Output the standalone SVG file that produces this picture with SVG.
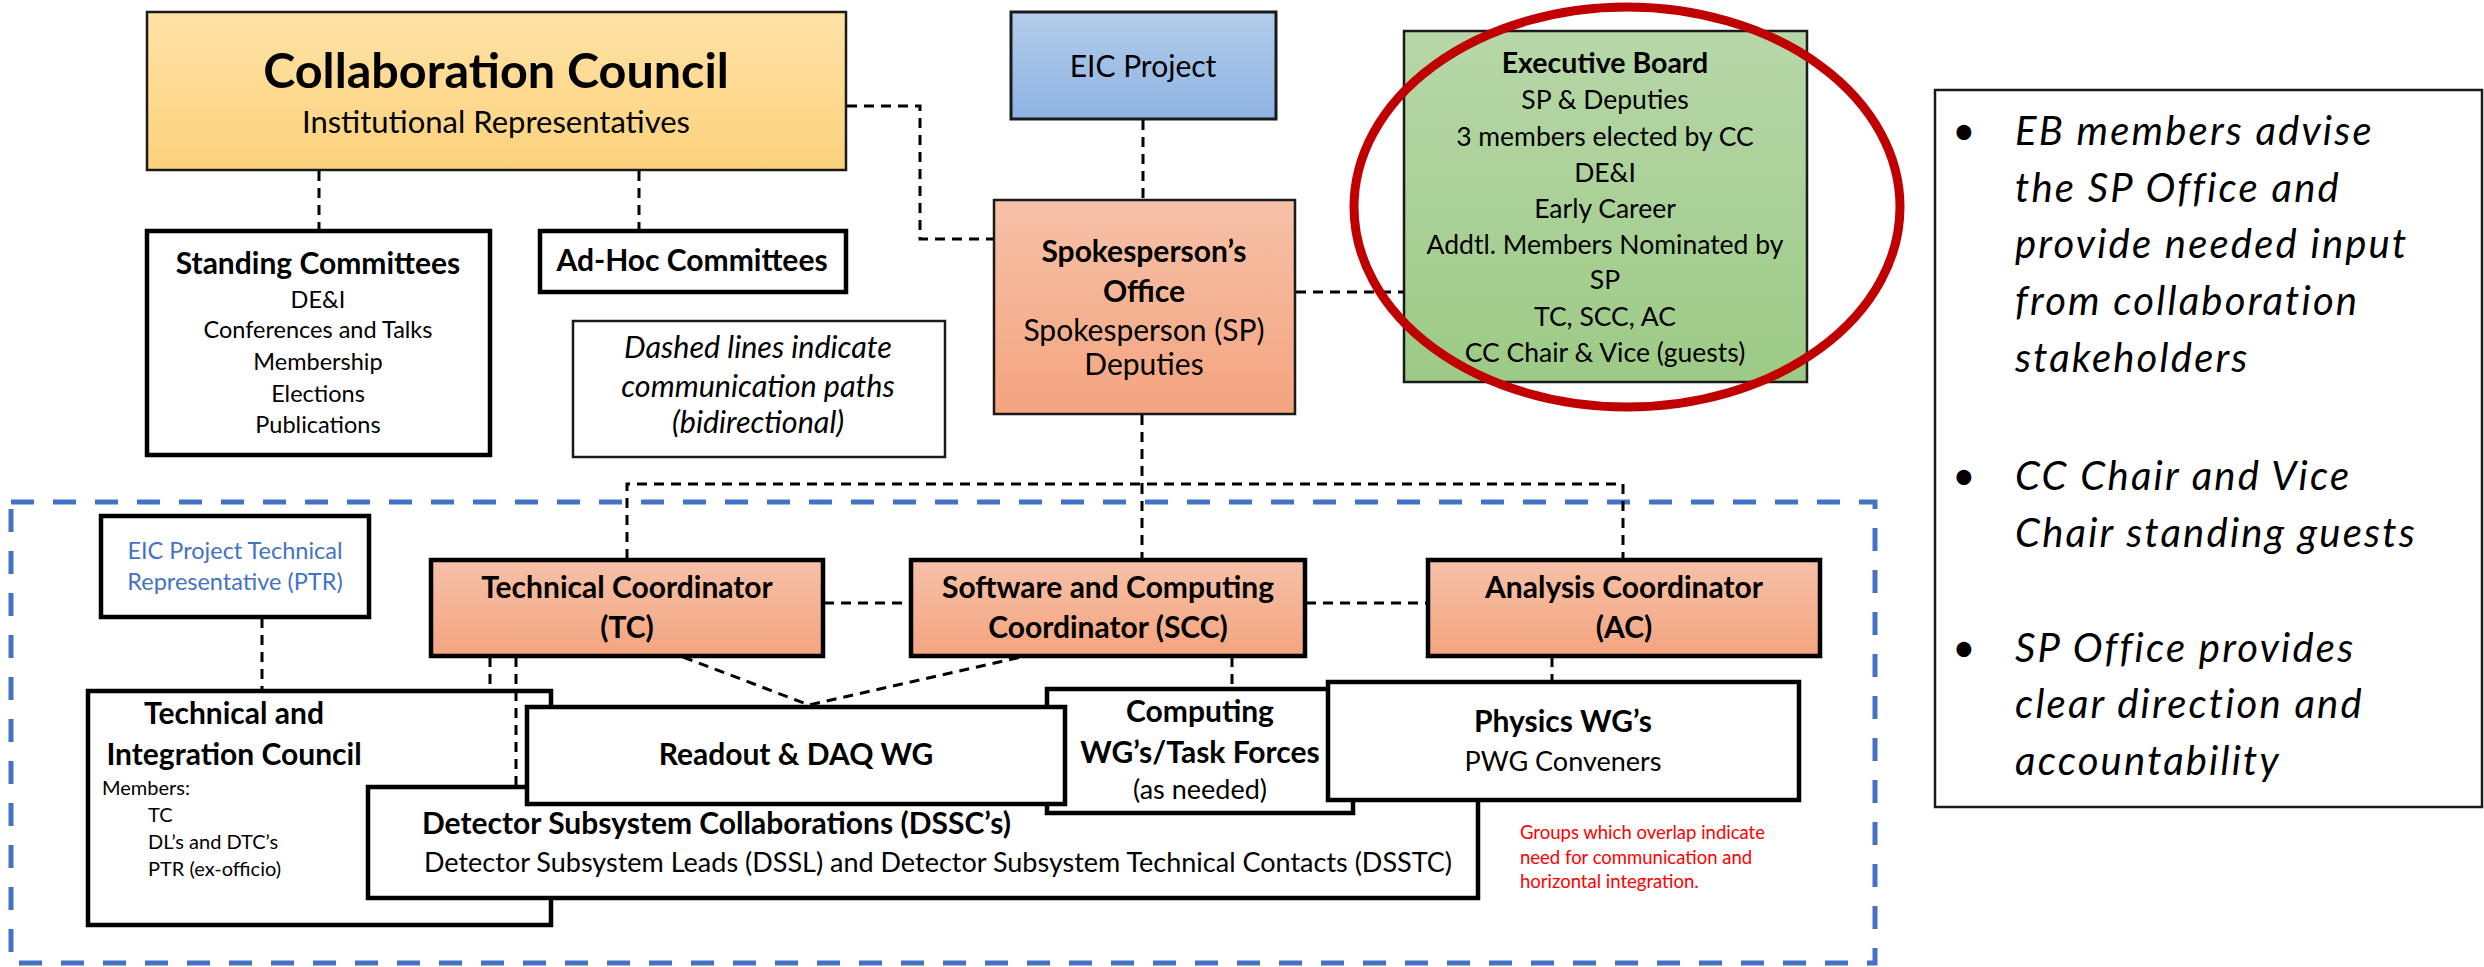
<svg xmlns="http://www.w3.org/2000/svg" width="2484" height="967" viewBox="0 0 2484 967">
<defs>
<linearGradient id="gYel" x1="0" y1="0" x2="0" y2="1"><stop offset="0" stop-color="#FFE2A6"/><stop offset="1" stop-color="#FCD27C"/></linearGradient>
<linearGradient id="gBlue" x1="0" y1="0" x2="0" y2="1"><stop offset="0" stop-color="#B3CDEB"/><stop offset="1" stop-color="#8EB3E2"/></linearGradient>
<linearGradient id="gSal" x1="0" y1="0" x2="0" y2="1"><stop offset="0" stop-color="#F6C1A8"/><stop offset="1" stop-color="#F4A47F"/></linearGradient>
<linearGradient id="gGreen" x1="0" y1="0" x2="0" y2="1"><stop offset="0" stop-color="#B7D7A8"/><stop offset="1" stop-color="#9DCA86"/></linearGradient>
<style>
text{font-family:Lato,"Liberation Sans",sans-serif;fill:#000}
.b{font-weight:bold}
.c{text-anchor:middle}
.thin{stroke:#1a1a1a;stroke-width:2.5}
.thick{fill:#fff;stroke:#000;stroke-width:4.5}
.con{fill:none;stroke:#000;stroke-width:3;stroke-dasharray:10 7}
.it{font-style:italic}
</style>
</defs>

<rect id="tech-area" x="11" y="502" width="1864" height="461" fill="none" stroke="#4472C4" stroke-width="5" stroke-dasharray="23 19"/>

<g id="collaboration-council">
<rect x="147" y="12" width="699" height="158" fill="url(#gYel)" class="thin"/>
<text x="496" y="88" class="b c" font-size="48.5">Collaboration Council</text>
<text x="496" y="133" class="c" font-size="31">Institutional Representatives</text>
</g>

<g id="standing-committees">
<rect x="147" y="231" width="343" height="224" class="thick"/>
<text x="318" y="274" class="b c" font-size="30">Standing Committees</text>
<text x="318" y="308" class="c" font-size="23.5">DE&amp;I</text>
<text x="318" y="338" class="c" font-size="23.5">Conferences and Talks</text>
<text x="318" y="370" class="c" font-size="23.5">Membership</text>
<text x="318" y="402" class="c" font-size="23.5">Elections</text>
<text x="318" y="433" class="c" font-size="23.5">Publications</text>
</g>

<g id="adhoc-committees">
<rect x="540" y="231" width="306" height="61" class="thick"/>
<text x="692" y="271" class="b c" font-size="30">Ad-Hoc Committees</text>
</g>

<g id="legend-note">
<rect x="573" y="321" width="372" height="136" fill="#fff" stroke="#1a1a1a" stroke-width="2.5"/>
<text x="758" y="358" class="c it" font-size="30.5">Dashed lines indicate</text>
<text x="758" y="397" class="c it" font-size="30.5">communication paths</text>
<text x="758" y="433" class="c it" font-size="30.5">(bidirectional)</text>
</g>

<g id="eic-project">
<rect x="1011" y="12" width="265" height="107" fill="url(#gBlue)" stroke="#1a1a1a" stroke-width="3"/>
<text x="1143" y="77" class="c" font-size="30">EIC Project</text>
</g>

<g id="spokesperson-office">
<rect x="994" y="200" width="301" height="214" fill="url(#gSal)" class="thin"/>
<text x="1144" y="262" class="b c" font-size="30">Spokesperson’s</text>
<text x="1144" y="302" class="b c" font-size="30">Office</text>
<text x="1144" y="341" class="c" font-size="30">Spokesperson (SP)</text>
<text x="1144" y="375" class="c" font-size="30">Deputies</text>
</g>

<g id="executive-board">
<rect x="1404" y="31" width="403" height="351" fill="url(#gGreen)" class="thin"/>
<text x="1605" y="73" class="b c" font-size="28.5">Executive Board</text>
<text x="1605" y="109" class="c" font-size="26.5">SP &amp; Deputies</text>
<text x="1605" y="146" class="c" font-size="26.5">3 members elected by CC</text>
<text x="1605" y="182" class="c" font-size="26.5">DE&amp;I</text>
<text x="1605" y="218" class="c" font-size="26.5">Early Career</text>
<text x="1605" y="254" class="c" font-size="26.5">Addtl. Members Nominated by</text>
<text x="1605" y="289" class="c" font-size="26.5">SP</text>
<text x="1605" y="326" class="c" font-size="26.5">TC, SCC, AC</text>
<text x="1605" y="362" class="c" font-size="26.5">CC Chair &amp; Vice (guests)</text>
</g>

<g id="notes-box">
<rect x="1935" y="90" width="547" height="717" fill="#fff" stroke="#1a1a1a" stroke-width="2.5"/>
<g font-size="40" style="letter-spacing:2.2px">
<text x="1965" y="145" class="c">•</text>
<text x="2015" y="145" class="it">EB members advise</text>
<text x="2015" y="202" class="it">the SP Office and</text>
<text x="2015" y="258" class="it">provide needed input</text>
<text x="2015" y="315" class="it">from collaboration</text>
<text x="2015" y="372" class="it">stakeholders</text>
<text x="1965" y="490" class="c">•</text>
<text x="2015" y="490" class="it">CC Chair and Vice</text>
<text x="2015" y="547" class="it">Chair standing guests</text>
<text x="1965" y="662" class="c">•</text>
<text x="2015" y="662" class="it">SP Office provides</text>
<text x="2015" y="718" class="it">clear direction and</text>
<text x="2015" y="775" class="it">accountability</text>
</g>
</g>

<g id="ptr">
<rect x="101" y="516" width="268" height="101" class="thick"/>
<text x="235" y="559" class="c" font-size="23.5" style="fill:#4472C4">EIC Project Technical</text>
<text x="235" y="590" class="c" font-size="23.5" style="fill:#4472C4">Representative (PTR)</text>
</g>

<g id="technical-coordinator">
<rect x="431" y="560" width="392" height="96" fill="url(#gSal)" stroke="#000" stroke-width="4.5"/>
<text x="627" y="598" class="b c" font-size="30">Technical Coordinator</text>
<text x="627" y="638" class="b c" font-size="30">(TC)</text>
</g>

<g id="software-computing-coordinator">
<rect x="911" y="560" width="394" height="96" fill="url(#gSal)" stroke="#000" stroke-width="4.5"/>
<text x="1108" y="598" class="b c" font-size="30">Software and Computing</text>
<text x="1108" y="638" class="b c" font-size="30">Coordinator (SCC)</text>
</g>

<g id="analysis-coordinator">
<rect x="1428" y="560" width="392" height="96" fill="url(#gSal)" stroke="#000" stroke-width="4.5"/>
<text x="1624" y="598" class="b c" font-size="30">Analysis Coordinator</text>
<text x="1624" y="638" class="b c" font-size="30">(AC)</text>
</g>

<g id="tic">
<rect x="88" y="691" width="463" height="234" class="thick"/>
<text x="234" y="724" class="b c" font-size="30">Technical and</text>
<text x="234" y="765" class="b c" font-size="30">Integration Council</text>
<text x="102" y="795" font-size="20">Members:</text>
<text x="148" y="822" font-size="20">TC</text>
<text x="148" y="849" font-size="20">DL’s and DTC’s</text>
<text x="148" y="876" font-size="20">PTR (ex-officio)</text>
</g>

<g id="dssc">
<rect x="368" y="787" width="1110" height="111" class="thick"/>
<text x="422" y="834" class="b" font-size="30">Detector Subsystem Collaborations (DSSC’s)</text>
<text x="424" y="872" font-size="27">Detector Subsystem Leads (DSSL) and Detector Subsystem Technical Contacts (DSSTC)</text>
</g>

<g id="computing-wg">
<rect x="1047" y="689" width="306" height="124" class="thick"/>
<text x="1200" y="722" class="b c" font-size="30">Computing</text>
<text x="1200" y="763" class="b c" font-size="30">WG’s/Task Forces</text>
<text x="1200" y="799" class="c" font-size="27">(as needed)</text>
</g>

<g id="readout-daq">
<rect x="527" y="707" width="538" height="97" class="thick"/>
<text x="796" y="765" class="b c" font-size="30">Readout &amp; DAQ WG</text>
</g>

<g id="physics-wg">
<rect x="1328" y="682" width="471" height="118" class="thick"/>
<text x="1563" y="732" class="b c" font-size="30">Physics WG’s</text>
<text x="1563" y="771" class="c" font-size="27">PWG Conveners</text>
</g>

<g id="overlap-note">
<text x="1520" y="839" font-size="18.5" style="fill:#FF0000">Groups which overlap indicate</text>
<text x="1520" y="864" font-size="18.5" style="fill:#FF0000">need for communication and</text>
<text x="1520" y="888" font-size="18.5" style="fill:#FF0000">horizontal integration.</text>
</g>

<g id="connectors">
<path class="con" d="M319 171V230"/>
<path class="con" d="M639 171V230"/>
<path class="con" d="M847 106H920V239H993"/>
<path class="con" d="M1143 120V199"/>
<path class="con" d="M1296 292H1403"/>
<path class="con" d="M1142 415V484"/>
<path class="con" d="M627 559V484H1623V559"/>
<path class="con" d="M1142 484V559"/>
<path class="con" d="M824 603H910"/>
<path class="con" d="M1306 603H1427"/>
<path class="con" d="M262 618V690"/>
<path class="con" d="M490 657V690"/>
<path class="con" d="M516 657V786"/>
<path class="con" d="M683 657L809 705L1021 657"/>
<path class="con" d="M1232 657V688"/>
<path class="con" d="M1552 657V681"/>
</g>

<ellipse id="eb-highlight" cx="1627" cy="207" rx="273" ry="200" fill="none" stroke="#C00000" stroke-width="9"/>
</svg>
